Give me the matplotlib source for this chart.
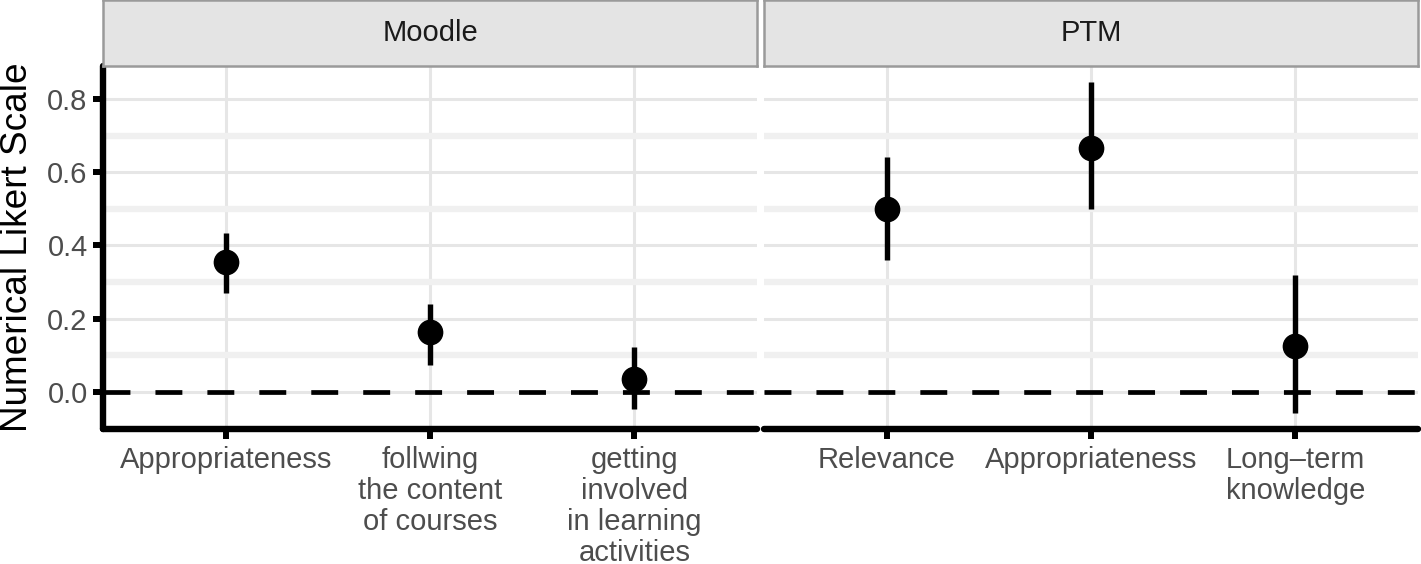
import matplotlib
matplotlib.use("Agg")
import matplotlib.pyplot as plt
import numpy as np

plt.rcParams['font.family'] = ['Liberation Sans', 'DejaVu Sans']

# ---- data ----
panels = ["Moodle", "PTM"]
moodle_labels = ["Appropriateness", "follwing\nthe content\nof courses",
                 "getting\ninvolved\nin learning\nactivities"]
moodle_est = [0.354, 0.162, 0.035]
moodle_lo = [0.271, 0.073, -0.047]
moodle_hi = [0.435, 0.240, 0.122]

ptm_labels = ["Relevance", "Appropriateness", "Long\u2013term\nknowledge"]
ptm_est = [0.500, 0.668, 0.126]
ptm_lo = [0.359, 0.499, -0.058]
ptm_hi = [0.641, 0.846, 0.318]

y_major = [0.0, 0.2, 0.4, 0.6, 0.8]
y_major_labels = ["0.0", "0.2", "0.4", "0.6", "0.8"]
y_minor = [0.1, 0.3, 0.5, 0.7]
y_label = "Numerical Likert Scale"

W, H = 1421, 564
fig = plt.figure(figsize=(W / 100, H / 100), dpi=100)

panel_px = [(103, 757), (764, 1418)]
top_px, bot_px = 66, 429.3
ylim = (-0.103, 0.891)

data = [(moodle_labels, moodle_est, moodle_lo, moodle_hi),
        (ptm_labels, ptm_est, ptm_lo, ptm_hi)]

for i, (name, (x0, x1), (labels, est, lo, hi)) in enumerate(zip(panels, panel_px, data)):
    ax = fig.add_axes([x0 / W, 1 - bot_px / H, (x1 - x0) / W, (bot_px - top_px) / H])
    ax.set_facecolor('white')
    xs = np.arange(len(labels))
    ax.set_xlim(-0.6, len(labels) - 1 + 0.6)
    ax.set_ylim(*ylim)
    ax.set_axisbelow(True)

    ax.set_yticks(y_major)
    ax.set_yticks(y_minor, minor=True)
    ax.set_xticks(xs)
    ax.set_xticklabels(labels, linespacing=1.13)
    ax.grid(which='major', axis='y', color='#e6e6e6', lw=2.2)
    ax.grid(which='minor', axis='y', color='#f0f0f0', lw=4.6, solid_capstyle='round')
    ax.grid(which='major', axis='x', color='#e6e6e6', lw=2.2)

    ax.axhline(0, color='black', lw=3.4, dashes=(5.7, 5.3), zorder=2)
    ax.vlines(xs, lo, hi, color='black', lw=3.9, zorder=3)
    ax.plot(xs, est, 'o', color='black', ms=17.5, zorder=4)

    for s in ['top', 'right']:
        ax.spines[s].set_visible(False)
    ax.spines['bottom'].set_linewidth(4.6)
    ax.spines['bottom'].set_color('black')
    ax.spines['bottom'].set_capstyle('round')
    if i == 0:
        ax.spines['left'].set_linewidth(4.6)
        ax.spines['left'].set_color('black')
        ax.spines['left'].set_capstyle('round')
        ax.set_yticklabels(y_major_labels)
        ax.tick_params(axis='y', which='major', length=7, width=4.3,
                       color='black', labelsize=21, labelcolor='#4d4d4d', pad=4)
    else:
        ax.spines['left'].set_visible(False)
        ax.tick_params(axis='y', which='major', length=0, labelleft=False)
    ax.tick_params(axis='y', which='minor', length=0)
    ax.tick_params(axis='x', which='major', length=7, width=4.3, color='black',
                   labelsize=21, labelcolor='#4d4d4d', pad=5)
    ax.tick_params(axis='x', which='minor', length=0)

    # strip
    sax = fig.add_axes([x0 / W, 1 - top_px / H, (x1 - x0) / W, top_px / H])
    sax.set_facecolor('#e4e4e4')
    sax.set_xticks([])
    sax.set_yticks([])
    for s in sax.spines.values():
        s.set_color('#9a9a9a')
        s.set_linewidth(1.8)
    sax.text(0.5, 0.5, name, ha='center', va='center', fontsize=21,
             color='#1a1a1a', transform=sax.transAxes)

fig.text(18 / W, 1 - 247 / H, y_label, rotation=90, ha='center', va='center',
         fontsize=26.6, color='black')

fig.savefig("out.png", dpi=100, facecolor='white')
